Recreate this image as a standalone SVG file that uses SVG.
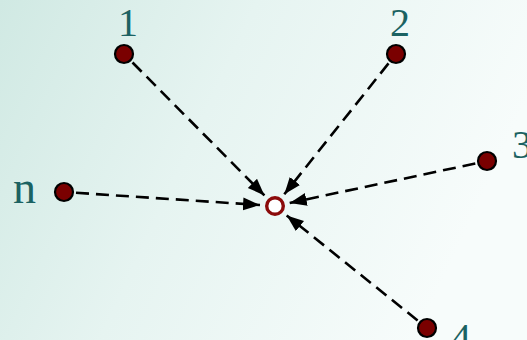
<svg xmlns="http://www.w3.org/2000/svg" width="527" height="340" viewBox="0 0 527 340">
<defs>
<linearGradient id="bg" x1="0" y1="0" x2="1" y2="0.3">
<stop offset="0" stop-color="#d0e9e3"/>
<stop offset="0.45" stop-color="#e6f4f1"/>
<stop offset="1" stop-color="#f7fcfb"/>
</linearGradient>
<marker id="ah" markerUnits="userSpaceOnUse" markerWidth="18" markerHeight="14" refX="17" refY="6.5" orient="auto">
<path d="M0,0 L17,6.5 L0,13 z" fill="#000"/>
</marker>
<style>
.node{fill:#7a0000;stroke:#000;stroke-width:2.2}
.lbl{font-family:"Liberation Serif","Times New Roman",serif;font-size:40px;fill:#1b6262}
.edge{stroke:#000;stroke-width:2.6;stroke-dasharray:13 7;fill:none;marker-end:url(#ah)}
</style>
</defs>
<rect width="527" height="340" fill="url(#bg)"/>
<g id="connectors">
<line class="edge" x1="132.5" y1="62.5" x2="264.4" y2="195.4"/>
<line class="edge" x1="388.5" y1="63.4" x2="284.3" y2="194.3"/>
<line class="edge" x1="475.3" y1="163.5" x2="289.7" y2="202.9"/>
<line class="edge" x1="76" y1="192.8" x2="260" y2="205"/>
<line class="edge" x1="417.6" y1="320.5" x2="286.7" y2="215.4"/>
</g>
<g id="node1"><circle class="node" cx="124" cy="54" r="9"/><text class="lbl" x="128" y="36" text-anchor="middle">1</text></g>
<g id="node2"><circle class="node" cx="396" cy="54" r="9"/><text class="lbl" x="400" y="36" text-anchor="middle">2</text></g>
<g id="node3"><circle class="node" cx="487" cy="161" r="9"/><text class="lbl" x="512" y="158">3</text></g>
<g id="noden"><circle class="node" cx="64" cy="192" r="9"/><text class="lbl" x="13" y="203" style="font-size:46px">n</text></g>
<g id="node4"><circle class="node" cx="427" cy="328" r="9"/><text class="lbl" x="451" y="351">4</text></g>
<g id="center"><circle cx="275" cy="206" r="8.3" fill="#fff" stroke="#8b0a0a" stroke-width="3.4"/></g>
</svg>
